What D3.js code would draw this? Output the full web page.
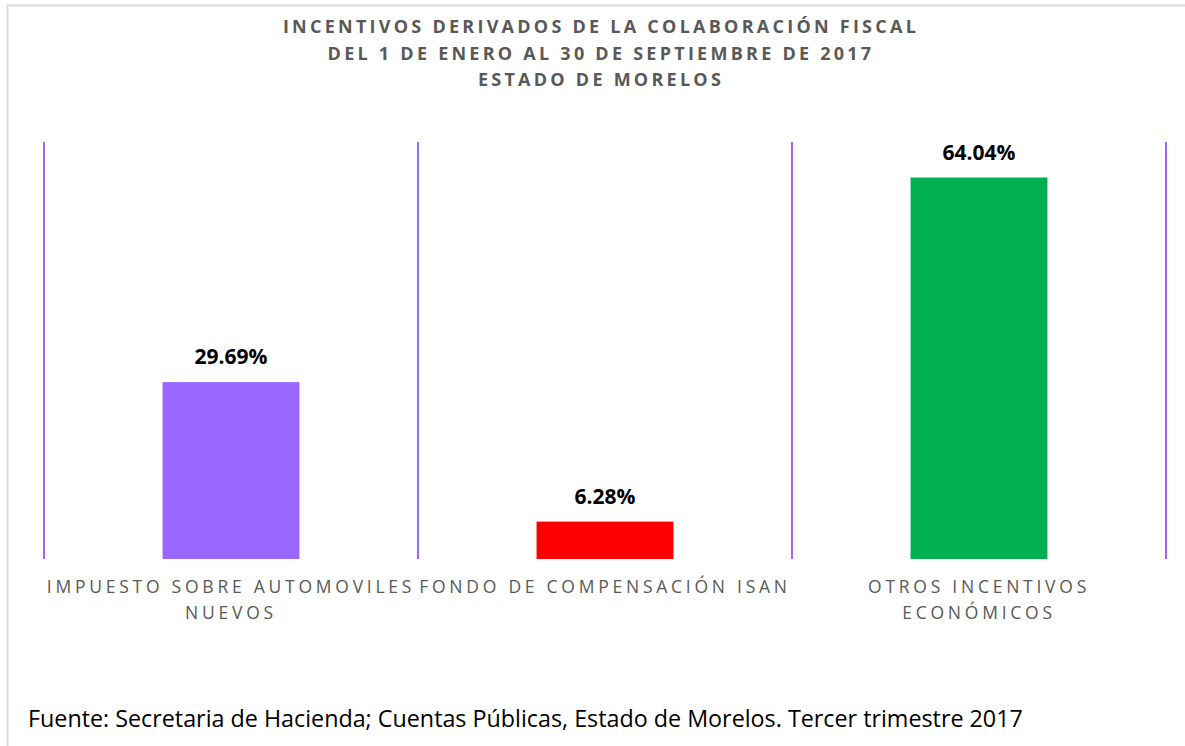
<!DOCTYPE html>
<html>
<head>
<meta charset="UTF-8">
<script src="https://cdn.jsdelivr.net/npm/d3@7"></script>
<style>
  body { margin: 0; background: #fff; }
  svg { display: block; }
</style>
</head>
<body>
<svg id="chart" width="1185" height="746"></svg>
<script>
  // chart data
  var categories = ["IMPUESTO SOBRE AUTOMOVILES NUEVOS", "FONDO DE COMPENSACIÓN ISAN", "OTROS INCENTIVOS ECONÓMICOS"];
  var labelLines = [["IMPUESTO SOBRE AUTOMOVILES", "NUEVOS"], ["FONDO DE COMPENSACIÓN ISAN"], ["OTROS INCENTIVOS", "ECONÓMICOS"]];
  var values = [29.69, 6.28, 64.04];
  var colors = ["#9966FF", "#FF0000", "#00B050"];
  var titleLines = ["INCENTIVOS DERIVADOS DE LA COLABORACIÓN FISCAL", "DEL 1 DE ENERO AL 30 DE SEPTIEMBRE DE 2017", "ESTADO DE MORELOS"];
  var source = "Fuente: Secretaria de Hacienda; Cuentas Públicas, Estado de Morelos. Tercer trimestre 2017";

  var font = "'Open Sans', Lato, sans-serif";
  var svg = d3.select("#chart");
  var plot = { left: 44, right: 1166, top: 142, bottom: 559 };

  // outer frame (runs past the right and bottom edge)
  svg.append("rect")
      .attr("x", 7.5).attr("y", 5.5)
      .attr("width", 1200).attr("height", 800)
      .attr("fill", "#fff")
      .attr("stroke", "#d9d9d9")
      .attr("stroke-width", 2);

  var x = d3.scaleBand()
      .domain(categories)
      .range([plot.left, plot.right])
      .paddingInner(0).paddingOuter(0);

  var y = d3.scaleLinear()
      .domain([0, 70])
      .range([plot.bottom, plot.top]);

  var barW = x.bandwidth() * 0.366;

  // title
  svg.append("text")
      .attr("x", 601).attr("y", 33)
      .attr("text-anchor", "middle")
      .attr("font-family", font)
      .attr("font-size", 18)
      .attr("font-weight", "bold")
      .attr("letter-spacing", 3.25)
      .attr("fill", "#595959")
      .selectAll("tspan").data(titleLines).enter()
      .append("tspan")
      .attr("x", 601)
      .attr("dy", function (d, i) { return i === 0 ? 0 : 26.5; })
      .text(function (d) { return d; });

  // category separators
  var edges = categories.map(function (c) { return x(c); }).concat([plot.right]);
  svg.selectAll("line.sep").data(edges).enter()
      .append("line")
      .attr("class", "sep")
      .attr("x1", function (d) { return d; })
      .attr("x2", function (d) { return d; })
      .attr("y1", y(70))
      .attr("y2", y(0))
      .attr("stroke", "#9966FF")
      .attr("stroke-width", 2);

  // bars
  svg.selectAll("rect.bar").data(values).enter()
      .append("rect")
      .attr("class", "bar")
      .attr("x", function (d, i) { return x(categories[i]) + (x.bandwidth() - barW) / 2; })
      .attr("y", function (d) { return y(d); })
      .attr("width", barW)
      .attr("height", function (d) { return y(0) - y(d); })
      .attr("fill", function (d, i) { return colors[i]; });

  // value labels
  svg.selectAll("text.val").data(values).enter()
      .append("text")
      .attr("class", "val")
      .attr("x", function (d, i) { return x(categories[i]) + x.bandwidth() / 2; })
      .attr("y", function (d) { return y(d) - 18; })
      .attr("text-anchor", "middle")
      .attr("font-family", font)
      .attr("font-size", 21)
      .attr("font-weight", "bold")
      .attr("fill", "#000")
      .text(function (d) { return d.toFixed(2) + "%"; });

  // x axis labels
  var axis = svg.append("g")
      .attr("transform", "translate(0," + plot.bottom + ")")
      .call(d3.axisBottom(x).tickSize(0).tickFormat(""));
  axis.select(".domain").remove();

  axis.selectAll(".tick").each(function (d, i) {
    var t = d3.select(this).select("text")
        .attr("y", 0)
        .attr("dy", null)
        .attr("font-family", font)
        .attr("font-size", 17.5)
        .attr("letter-spacing", 3.75)
        .attr("fill", "#595959")
        .attr("text-anchor", "middle");
    t.selectAll("tspan").data(labelLines[i]).enter()
        .append("tspan")
        .attr("x", 0)
        .attr("y", function (l, j) { return 34 + j * 26; })
        .text(function (l) { return l; });
  });

  // source note
  svg.append("text")
      .attr("x", 28).attr("y", 727)
      .attr("font-family", font)
      .attr("font-size", 23.3)
      .attr("fill", "#000")
      .text(source);
</script>
</body>
</html>
